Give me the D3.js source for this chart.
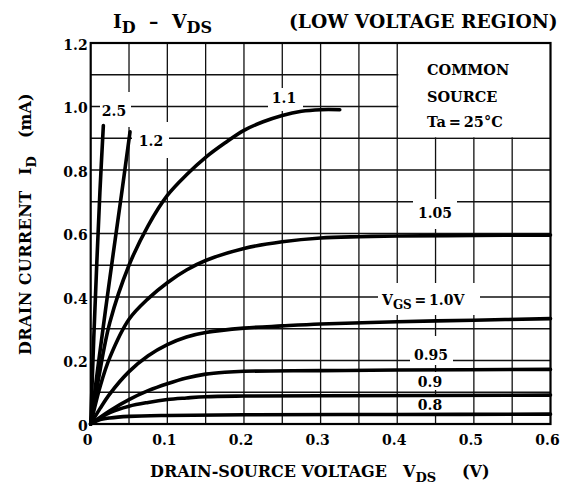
<!DOCTYPE html>
<meta charset="utf-8">
<style>
body { margin: 0; background: #fff; }
svg { display: block; font-family: "DejaVu Serif", serif; font-weight: bold; fill: #000; }
.grid line { stroke: #111; stroke-width: 1.3; }
.frame { fill: none; stroke: #000; stroke-width: 2.2; }
.curve { fill: none; stroke: #000; stroke-width: 3.6; stroke-linecap: round; stroke-linejoin: round; }
</style>
<body>
<script src="https://d3js.org/d3.v7.min.js"></script>
<script>

var width = 567,
    height = 487;

// tick values
var vdsTicks = [0, 0.1, 0.2, 0.3, 0.4, 0.5, 0.6];
var idTicks = [0, 0.2, 0.4, 0.6, 0.8, 1.0, 1.2];

// I_D (mA) against V_DS (V), one array per V_GS
var vgs2_5 = [[0, 0], [0.004, 0.27], [0.008, 0.51], [0.012, 0.73], [0.0165, 0.94]];
var vgs1_2 = [[0, 0], [0.01, 0.19], [0.025, 0.46], [0.04, 0.72], [0.0513, 0.92]];
var vgs1_1 = [[0, 0], [0.01, 0.14], [0.025, 0.32], [0.05, 0.5], [0.075, 0.625], [0.1, 0.72],
              [0.125, 0.785], [0.15, 0.84], [0.175, 0.885], [0.2, 0.925], [0.225, 0.952],
              [0.25, 0.972], [0.275, 0.985], [0.3, 0.99], [0.325, 0.99]];
var vgs1_05 = [[0, 0], [0.0125, 0.12], [0.025, 0.21], [0.05, 0.33], [0.075, 0.395], [0.1, 0.445],
               [0.125, 0.485], [0.15, 0.515], [0.2, 0.553], [0.25, 0.574], [0.3, 0.586],
               [0.35, 0.59], [0.4, 0.592], [0.5, 0.594], [0.6, 0.595]];
var vgs1_0 = [[0, 0], [0.0125, 0.05], [0.025, 0.095], [0.05, 0.165], [0.075, 0.215], [0.1, 0.25],
              [0.125, 0.274], [0.15, 0.288], [0.2, 0.302], [0.25, 0.309], [0.3, 0.315],
              [0.4, 0.322], [0.5, 0.327], [0.6, 0.332]];
var vgs0_95 = [[0, 0], [0.025, 0.042], [0.05, 0.077], [0.075, 0.105], [0.1, 0.127], [0.125, 0.145],
               [0.15, 0.157], [0.175, 0.163], [0.2, 0.166], [0.3, 0.168], [0.4, 0.17], [0.6, 0.172]];
var vgs0_9 = [[0, 0], [0.025, 0.036], [0.05, 0.056], [0.075, 0.068], [0.1, 0.077], [0.125, 0.082],
              [0.15, 0.086], [0.2, 0.088], [0.3, 0.089], [0.6, 0.091]];
var vgs0_8 = [[0, 0], [0.01, 0.012], [0.025, 0.019], [0.05, 0.024], [0.1, 0.027], [0.2, 0.029],
              [0.4, 0.03], [0.6, 0.031]];

var x = d3.scaleLinear().domain([0, 0.6]).range([90.7, 550.5]);
var y = d3.scaleLinear().domain([0, 1.2]).range([424, 43]);

var svg = d3.select("body").append("svg")
    .attr("width", width)
    .attr("height", height);

// grid: every 0.05 V and every 0.1 mA
var grid = svg.append("g").attr("class", "grid");
grid.selectAll(".gv")
    .data(d3.range(1, 12).map(function(k) { return k * 0.05; }))
    .enter().append("line")
    .attr("x1", function(d) { return x(d); })
    .attr("x2", function(d) { return x(d); })
    .attr("y1", y(0)).attr("y2", y(1.2));
grid.selectAll(".gh")
    .data(d3.range(1, 12).map(function(k) { return k * 0.1; }))
    .enter().append("line")
    .attr("x1", x(0)).attr("x2", x(0.6))
    .attr("y1", function(d) { return y(d); })
    .attr("y2", function(d) { return y(d); });

// white boxes behind the labels (they break the grid like in the datasheet)
var masks = [
  [100, 92, 131, 127],   // 2.5
  [132, 122, 169, 158],  // 1.2
  [268, 88, 303, 111],   // 1.1
  [413, 199, 457, 229],  // 1.05
  [378, 283, 480, 315],  // VGS=1.0V
  [410, 336, 453, 365],  // 0.95
  [413, 372, 448, 390],  // 0.9
  [413, 397, 448, 414]   // 0.8
];
svg.append("g").selectAll("rect")
    .data(masks)
    .enter().append("rect")
    .attr("x", function(d) { return d[0]; })
    .attr("y", function(d) { return d[1]; })
    .attr("width", function(d) { return d[2] - d[0]; })
    .attr("height", function(d) { return d[3] - d[1]; })
    .attr("fill", "#fff");

// legend box
svg.append("rect")
    .attr("x", x(0.4) + 1)
    .attr("y", y(1.2))
    .attr("width", x(0.6) - x(0.4) - 1)
    .attr("height", y(0.9) - y(1.2) - 1)
    .attr("fill", "#fff");

var legend = svg.append("g").attr("font-size", 14.5);
legend.append("text").attr("x", 427).attr("y", 75).text("COMMON");
legend.append("text").attr("x", 427).attr("y", 101.5).text("SOURCE");
legend.append("text").attr("x", 427).attr("y", 127).text("Ta\u2009=\u200925\u00B0C");

// curves
var line = d3.line()
    .x(function(d) { return x(d[0]); })
    .y(function(d) { return y(d[1]); })
    .curve(d3.curveCatmullRom.alpha(0.5));

svg.append("g").selectAll("path")
    .data([vgs2_5, vgs1_2, vgs1_1, vgs1_05, vgs1_0, vgs0_95, vgs0_9, vgs0_8])
    .enter().append("path")
    .attr("class", "curve")
    .attr("d", line);

// frame
svg.append("rect")
    .attr("class", "frame")
    .attr("x", x(0)).attr("y", y(1.2))
    .attr("width", x(0.6) - x(0)).attr("height", y(0) - y(1.2));

// curve labels
var curveLabels = svg.append("g").attr("font-size", 14).attr("text-anchor", "middle");
var labelAt = [
  ["2.5", 114, 116],
  ["1.2", 151, 146],
  ["1.1", 284, 103],
  ["1.05", 435, 218],
  ["0.95", 431, 360],
  ["0.9", 430, 387],
  ["0.8", 430, 410]
];
curveLabels.selectAll("text")
    .data(labelAt)
    .enter().append("text")
    .attr("x", function(d) { return d[1]; })
    .attr("y", function(d) { return d[2]; })
    .text(function(d) { return d[0]; });

var vgs = svg.append("text").attr("font-size", 14).attr("x", 382).attr("y", 305);
vgs.append("tspan").text("V");
vgs.append("tspan").attr("font-size", 12).attr("dy", 4).text("GS");
vgs.append("tspan").attr("dy", -4).text("\u2009=\u20091.0V");

// axes
var xAxis = svg.append("g")
    .attr("transform", "translate(0," + y(0) + ")")
    .call(d3.axisBottom(x).tickValues(vdsTicks).tickSize(0).tickPadding(11)
        .tickFormat(function(d) { return d === 0 ? "0" : d3.format(".1f")(d); }));
xAxis.select(".domain").remove();
xAxis.selectAll("text")
    .attr("font-family", "DejaVu Serif")
    .attr("font-size", 14)
    .attr("font-weight", "bold")
    .attr("fill", "#000")
    .attr("dx", -3.5);

var yAxis = svg.append("g")
    .attr("transform", "translate(" + x(0) + ",0)")
    .call(d3.axisLeft(y).tickValues(idTicks).tickSize(0).tickPadding(3)
        .tickFormat(function(d) { return d === 0 ? "0" : d3.format(".1f")(d); }));
yAxis.select(".domain").remove();
yAxis.selectAll("text")
    .attr("font-family", "DejaVu Serif")
    .attr("font-size", 14)
    .attr("font-weight", "bold")
    .attr("fill", "#000")
    .attr("dy", "0.45em");

// title
var title = svg.append("text").attr("font-size", 18.7).attr("y", 28);
title.append("tspan").attr("x", 113).text("I");
title.append("tspan").attr("font-size", 16).attr("dy", 5).text("D");
title.append("tspan").attr("dy", -5).attr("x", 149).text("\u2013");
title.append("tspan").attr("x", 172).text("V");
title.append("tspan").attr("font-size", 16).attr("dy", 5).text("DS");
title.append("tspan").attr("dy", -5).attr("x", 289).text("(LOW VOLTAGE REGION)");

// x axis title
var xt = svg.append("text").attr("font-size", 16).attr("y", 477);
xt.append("tspan").attr("x", 150).text("DRAIN-SOURCE VOLTAGE");
xt.append("tspan").attr("x", 403).text("V");
xt.append("tspan").attr("font-size", 13).attr("dy", 5).text("DS");
xt.append("tspan").attr("dy", -5).attr("x", 462).text("(V)");

// y axis title
var yt = svg.append("text").attr("font-size", 16)
    .attr("transform", "translate(31,0) rotate(-90)");
yt.append("tspan").attr("x", -355).attr("letter-spacing", 0.4).text("DRAIN CURRENT");
yt.append("tspan").attr("x", -175).text("I");
yt.append("tspan").attr("font-size", 13).attr("dy", 5).text("D");
yt.append("tspan").attr("dy", -5).attr("x", -138).text("(mA)");

</script>
